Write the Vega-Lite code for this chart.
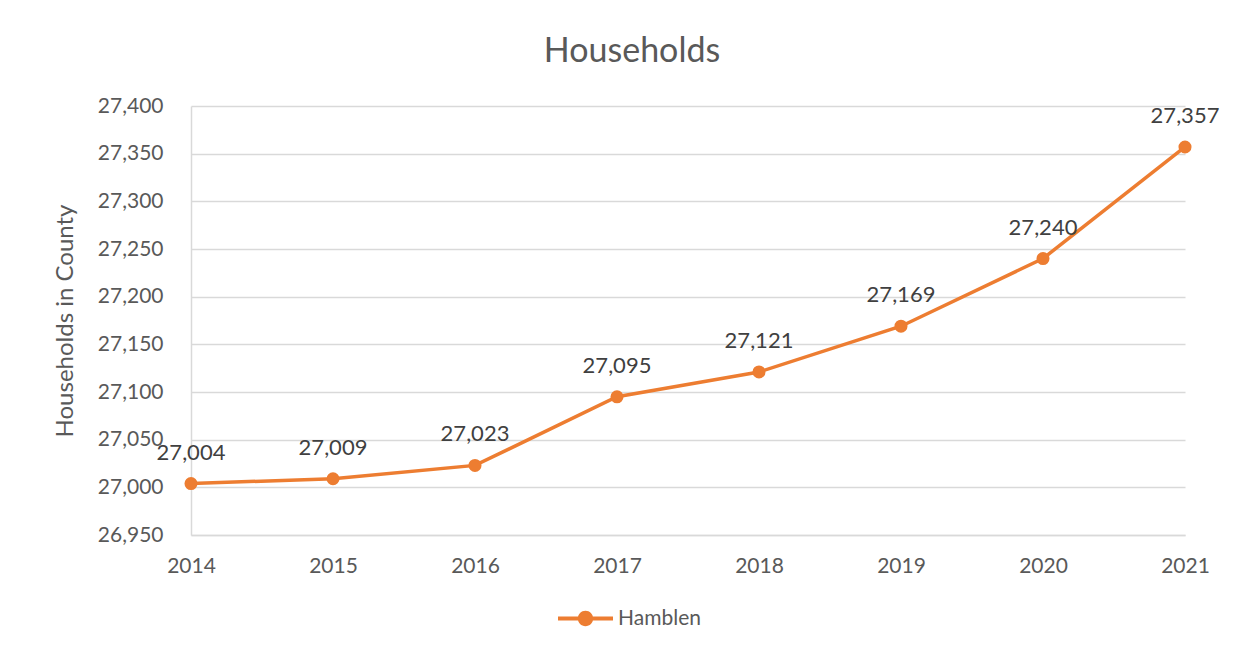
{
  "$schema": "https://vega.github.io/schema/vega-lite/v6.json",
  "width": 994,
  "height": 429,
  "autosize": "none",
  "padding": {"left": 191, "top": 106, "right": 54, "bottom": 125},
  "background": "white",
  "title": {"text": "Households", "fontSize": 34, "font": "Lato", "fontWeight": "normal", "color": "#595959", "offset": 26, "dx": -56},
  "data": {"values": [
    {"year": "2014", "households": 27004, "series": "Hamblen"},
    {"year": "2015", "households": 27009, "series": "Hamblen"},
    {"year": "2016", "households": 27023, "series": "Hamblen"},
    {"year": "2017", "households": 27095, "series": "Hamblen"},
    {"year": "2018", "households": 27121, "series": "Hamblen"},
    {"year": "2019", "households": 27169, "series": "Hamblen"},
    {"year": "2020", "households": 27240, "series": "Hamblen"},
    {"year": "2021", "households": 27357, "series": "Hamblen"}
  ]},
  "encoding": {
    "x": {"field": "year", "type": "ordinal", "scale": {"type": "point", "padding": 0},
      "axis": {"title": null, "labelAngle": 0, "ticks": false, "labelPadding": 20, "grid": false, "domainColor": "#d9d9d9", "domainWidth": 1.5}},
    "y": {"field": "households", "type": "quantitative", "scale": {"domain": [26950, 27400], "zero": false, "nice": false},
      "axis": {"title": "Households in County", "values": [26950, 27000, 27050, 27100, 27150, 27200, 27250, 27300, 27350, 27400], "format": ",d", "ticks": false, "labelPadding": 28, "titlePadding": 20, "titleFontSize": 24, "gridColor": "#d9d9d9", "gridWidth": 1.3, "domainColor": "#d9d9d9", "domainWidth": 1.5}}
  },
  "layer": [
    {"mark": {"type": "line", "strokeWidth": 3.5},
     "encoding": {"color": {"field": "series", "type": "nominal", "scale": {"range": ["#ED7D31"]},
       "legend": {"title": null, "orient": "none", "legendX": 376, "legendY": 494, "direction": "horizontal",
         "symbolType": "M-1.5,-0.11 L1.5,-0.11 L1.5,0.11 L-1.5,0.11 Z M-0.42,0 A0.42,0.42 0 1,1 0.42,0 A0.42,0.42 0 1,1 -0.42,0 Z",
         "symbolSize": 1344, "symbolFillColor": "#ED7D31", "symbolStrokeWidth": 0, "labelFontSize": 21, "labelFont": "Lato", "labelColor": "#595959", "labelOffset": 14}}}},
    {"mark": {"type": "point", "filled": true, "size": 170, "opacity": 1, "color": "#ED7D31"}},
    {"mark": {"type": "text", "fontSize": 22, "font": "Lato", "color": "#404040", "dy": -31, "baseline": "middle"},
     "encoding": {"text": {"field": "households", "type": "quantitative", "format": ",d"}}}
  ],
  "config": {
    "view": {"stroke": null},
    "axis": {"labelFont": "Lato", "labelFontSize": 21, "labelColor": "#595959", "titleFont": "Lato", "titleFontWeight": "normal", "titleColor": "#595959"}
  }
}
